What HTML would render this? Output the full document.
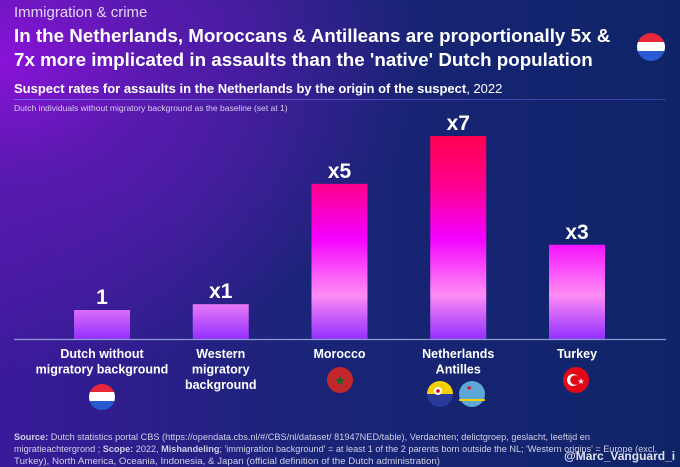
<!DOCTYPE html>
<html><head><meta charset="utf-8"><style>
body{margin:0;width:680px;height:467px;overflow:hidden;font-family:"Liberation Sans",sans-serif}
#bg{position:absolute;left:0;top:0;width:680px;height:467px;background:radial-gradient(ellipse 420px 320px at 0px 60px,#8a12d8 0%,#5a1ab0 35%,rgba(20,30,110,0) 100%),linear-gradient(90deg,#3a1a9a 0%,#1a2478 45%,#0f2468 100%)}
.t{position:absolute;color:#fff;white-space:nowrap}
</style></head><body>
<div id="bg"></div>
<div class="t" style="left:14px;top:4px;font-size:15px;color:#e0d8f0">Immigration &amp; crime</div>
<div class="t" style="left:14px;top:24px;font-size:18.8px;font-weight:bold;line-height:24px">In the Netherlands, Moroccans &amp; Antilleans are proportionally 5x &amp;<br>7x more implicated in assaults than the 'native' Dutch population</div>
<svg class="t" style="left:634px;top:30px" width="34" height="34"><clipPath id="c0"><circle cx="17" cy="17" r="14"/></clipPath><g clip-path="url(#c0)"><rect x="0" y="3" width="34" height="10" fill="#e8283a"/><rect x="0" y="12" width="34" height="10" fill="#fff"/><rect x="0" y="21" width="34" height="10" fill="#2a5ad0"/></g></svg>
<div class="t" style="left:14px;top:81px;font-size:13px"><b>Suspect rates for assaults in the Netherlands by the origin of the suspect</b>, 2022</div>
<div style="position:absolute;left:14px;top:99px;width:652px;height:1px;background:linear-gradient(90deg,#7a60f0,#3a3a9a)"></div>
<div class="t" style="left:14px;top:103px;font-size:8.5px;color:#d8d0f0">Dutch individuals without migratory background as the baseline (set at 1)</div>
<svg id="chart" style="position:absolute;left:0;top:0" width="680" height="467">
<defs><linearGradient id="bg1" gradientUnits="userSpaceOnUse" x1="0" y1="136" x2="0" y2="339">
<stop offset="0" stop-color="#ff0050"/><stop offset="0.25" stop-color="#ff0090"/><stop offset="0.5" stop-color="#f400ff"/><stop offset="0.78" stop-color="#ff8cf4"/><stop offset="1" stop-color="#9430ff"/></linearGradient></defs>
<g id="bars"></g>
<line x1="14" y1="339.5" x2="666" y2="339.5" stroke="#8a9ad0" stroke-width="1.2"/>
</svg>
<svg style="position:absolute;left:0;top:0" width="680" height="467" font-family="Liberation Sans, sans-serif" font-size="8.8" fill="#d0d0e8">
<text x="14" y="440" textLength="576" lengthAdjust="spacingAndGlyphs"><tspan font-weight="bold">Source:</tspan> Dutch statistics portal CBS (https://opendata.cbs.nl/#/CBS/nl/dataset/ 81947NED/table), Verdachten; delictgroep, geslacht, leeftijd en</text>
<text x="14" y="452" textLength="643" lengthAdjust="spacingAndGlyphs">migratieachtergrond ; <tspan font-weight="bold">Scope:</tspan> 2022, <tspan font-weight="bold">Mishandeling</tspan>; 'immigration background' = at least 1 of the 2 parents born outside the NL; 'Western origins' = Europe (excl.</text>
<text x="14" y="464" textLength="426" lengthAdjust="spacingAndGlyphs">Turkey), North America, Oceania, Indonesia, &amp; Japan (official definition of the Dutch administration)</text>
</svg>
<div class="t" style="left:564px;top:449px;font-size:12px;font-weight:bold;color:#e0e0f0">@Marc_Vanguard_i</div>
<script>
const categories=["Dutch without\nmigratory background","Western\nmigratory\nbackground","Morocco","Netherlands\nAntilles","Turkey"];
const values=[1,1.2,5.35,7,3.25];
const valueLabels=["1","x1","x5","x7","x3"];
const NS="http://www.w3.org/2000/svg";
const base=339,unit=29,left=74,step=118.75,bw=56;
function xPos(i){return left+i*step;}
function yPos(v){return base-v*unit;}
const g=document.getElementById('bars');
categories.forEach((c,i)=>{
  const x=xPos(i),y=yPos(values[i]);
  const r=document.createElementNS(NS,'rect');
  r.setAttribute('x',x);r.setAttribute('y',y);r.setAttribute('width',bw);r.setAttribute('height',base-y);
  r.setAttribute('fill','url(#bg1)');
  
  
  g.appendChild(r);
  const t=document.createElementNS(NS,'text');
  t.setAttribute('x',x+bw/2);t.setAttribute('y',y-6);t.setAttribute('text-anchor','middle');
  t.setAttribute('fill','#fff');t.setAttribute('font-size','21');t.setAttribute('font-weight','bold');
  t.setAttribute('font-family','Liberation Sans, sans-serif');
  t.textContent=valueLabels[i];
  
  
  g.appendChild(t);
  c.split('\n').forEach((ln,j)=>{
    const l=document.createElementNS(NS,'text');
    l.setAttribute('x',x+bw/2);l.setAttribute('y',358+j*15.5);l.setAttribute('text-anchor','middle');
    l.setAttribute('fill','#fff');l.setAttribute('font-size','12.5');l.setAttribute('font-weight','bold');
    l.setAttribute('font-family','Liberation Sans, sans-serif');
    l.textContent=ln;
    
    
    g.appendChild(l);
  });
});
</script>
<svg style="position:absolute;left:0;top:0" width="680" height="467">
<clipPath id="c1"><circle cx="102" cy="397" r="13"/></clipPath><g clip-path="url(#c1)"><rect x="88" y="383" width="28" height="10" fill="#e8283a"/><rect x="88" y="392" width="28" height="10" fill="#fff"/><rect x="88" y="401" width="28" height="10" fill="#2a5ad0"/></g>
<circle cx="340" cy="380" r="13" fill="#c1272d"/><text x="340" y="385" text-anchor="middle" font-size="13" fill="#0a6a2a">★</text>
<circle cx="576" cy="380" r="13" fill="#e30a17"/><circle cx="573" cy="380" r="6" fill="#fff"/><circle cx="575" cy="380" r="4.8" fill="#e30a17"/><text x="581" y="384" font-size="8" fill="#fff" text-anchor="middle">★</text>
<circle cx="440" cy="394" r="13" fill="#2a3a9a"/><path d="M427,394 A13,13 0 0 1 453,394 Z" fill="#f6d000"/><circle cx="438" cy="391" r="4" fill="#fff"/><circle cx="438" cy="391" r="1.8" fill="#c00"/>
<circle cx="472" cy="394" r="13" fill="#5ea8d8"/><rect x="459" y="399" width="26" height="2" fill="#f6d000"/><text x="466" y="390" font-size="7" fill="#e00">★</text>
</svg>
</body></html>
